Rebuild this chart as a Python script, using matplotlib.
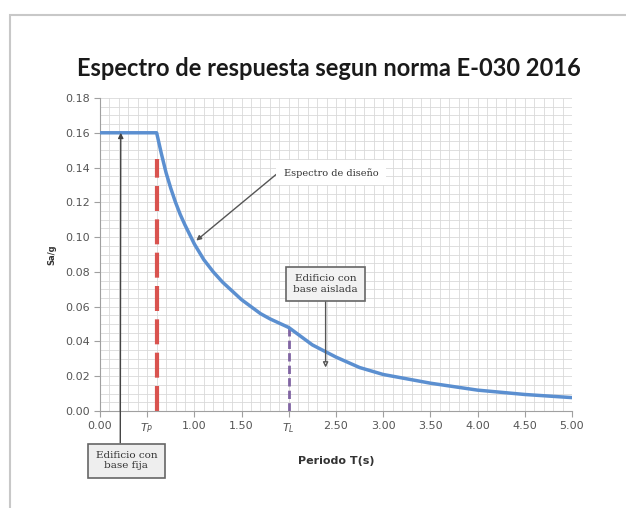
import matplotlib
matplotlib.use("Agg")
import matplotlib.pyplot as plt
from matplotlib.patches import Rectangle
from matplotlib.ticker import MultipleLocator

# Data
periodo = [0.0, 0.6, 0.65, 0.7, 0.75, 0.8, 0.85, 0.9, 1.0, 1.1, 1.2, 1.3, 1.4, 1.5,
           1.6, 1.7, 1.8, 1.9, 2.0, 2.25, 2.5, 2.75, 3.0, 3.5, 4.0, 4.5, 5.0]
sa_g = [0.160, 0.160, 0.148, 0.137, 0.128, 0.120, 0.113, 0.107, 0.096, 0.087,
        0.080, 0.074, 0.069, 0.064, 0.060, 0.056, 0.053, 0.0505, 0.048, 0.038,
        0.031, 0.025, 0.021, 0.016, 0.012, 0.0095, 0.0077]
Tp = 0.6
Tl = 2.0
Sa_Tl = 0.048
red_top = 0.145
x_ticks = [0.0, 0.5, 1.0, 1.5, 2.0, 2.5, 3.0, 3.5, 4.0, 4.5, 5.0]
x_tick_labels = ["0.00", "$T_P$", "1.00", "1.50", "$T_L$", "2.50", "3.00",
                 "3.50", "4.00", "4.50", "5.00"]
y_ticks = [0.00, 0.02, 0.04, 0.06, 0.08, 0.10, 0.12, 0.14, 0.16, 0.18]

fig = plt.figure(figsize=(6.26, 5.08), dpi=100)
fig.patch.set_facecolor("white")

# outer frame
fig.patches.append(Rectangle((10/626, -0.05), 1.0, 1 - 15/508 + 0.05,
                             transform=fig.transFigure, fill=False,
                             edgecolor="#c8c8c8", linewidth=1.5, zorder=0))

ax = fig.add_axes([100/626, 1 - 411/508, 472/626, 313/508])
ax.set_xlim(0, 5)
ax.set_ylim(0, 0.18)
ax.xaxis.set_minor_locator(MultipleLocator(0.1))
ax.yaxis.set_minor_locator(MultipleLocator(0.005))
ax.grid(which="both", color="#d9d9d9", linewidth=0.6)
ax.set_axisbelow(True)
for s in ["top", "right"]:
    ax.spines[s].set_visible(False)
for s in ["left", "bottom"]:
    ax.spines[s].set_color("#a0a0a0")
ax.tick_params(which="minor", length=0)
ax.tick_params(which="major", length=4, color="#a0a0a0", labelsize=8,
               labelcolor="#555555")
ax.set_xticks(x_ticks)
ax.set_xticklabels(x_tick_labels)
ax.set_yticks(y_ticks)
ax.set_yticklabels([f"{v:.2f}" for v in y_ticks])

ax.plot(periodo, sa_g, color="#5b8fd0", linewidth=2.5, zorder=3)
ax.plot([Tp, Tp], [0, red_top], color="#d9534f", linewidth=3,
        linestyle=(0, (6, 2)), zorder=2)
ax.plot([Tl, Tl], [0, Sa_Tl], color="#8064a2", linewidth=2,
        linestyle=(0, (3, 1.5)), zorder=2)

fig.text(329/626, 1 - 68/508, "Espectro de respuesta segun norma E-030 2016",
         ha="center", va="center", fontsize=17, family="Lato",
         fontweight="bold", color="#1a1a1a")
ax.set_xlabel("Periodo T(s)", fontsize=8, fontweight="bold", color="#333333",
              labelpad=15)
ax.set_ylabel("Sa/g", fontsize=6, fontweight="bold", color="#333333",
              labelpad=6)

# Annotations
ax.annotate("Espectro de diseño", xy=(1.02, 0.098), xytext=(1.95, 0.137),
            fontsize=7, family="DejaVu Serif", color="#333333",
            ha="left", va="center",
            bbox=dict(boxstyle="square,pad=0.8", fc="white", ec="none"),
            arrowprops=dict(arrowstyle="-|>", color="#555555", lw=1,
                            shrinkA=0, shrinkB=0,
                            relpos=(0, 1)), zorder=5)

ax.annotate("Edificio con\nbase aislada", xy=(2.39, 0.025),
            xytext=(2.39, 0.073), fontsize=7.5, family="DejaVu Serif",
            color="#333333", ha="center", va="center", multialignment="center",
            bbox=dict(boxstyle="square,pad=0.7", fc="#f2f2f2", ec="#666666",
                      lw=1.2),
            arrowprops=dict(arrowstyle="-|>", color="#555555", lw=1,
                            fc="white", shrinkA=0, shrinkB=0), zorder=5)

ax.annotate("Edificio con\nbase fija", xy=(0.22, 0.16),
            xytext=(0.28, -0.0285), fontsize=7.5, family="DejaVu Serif",
            color="#333333", ha="center", va="center", multialignment="center",
            bbox=dict(boxstyle="square,pad=0.7", fc="#eeeeee", ec="#666666",
                      lw=1.2),
            arrowprops=dict(arrowstyle="-|>", color="#444444", lw=1,
                            shrinkA=0, shrinkB=0, relpos=(0.4, 1)),
            annotation_clip=False, zorder=5)

fig.savefig("out.png", dpi=100)
